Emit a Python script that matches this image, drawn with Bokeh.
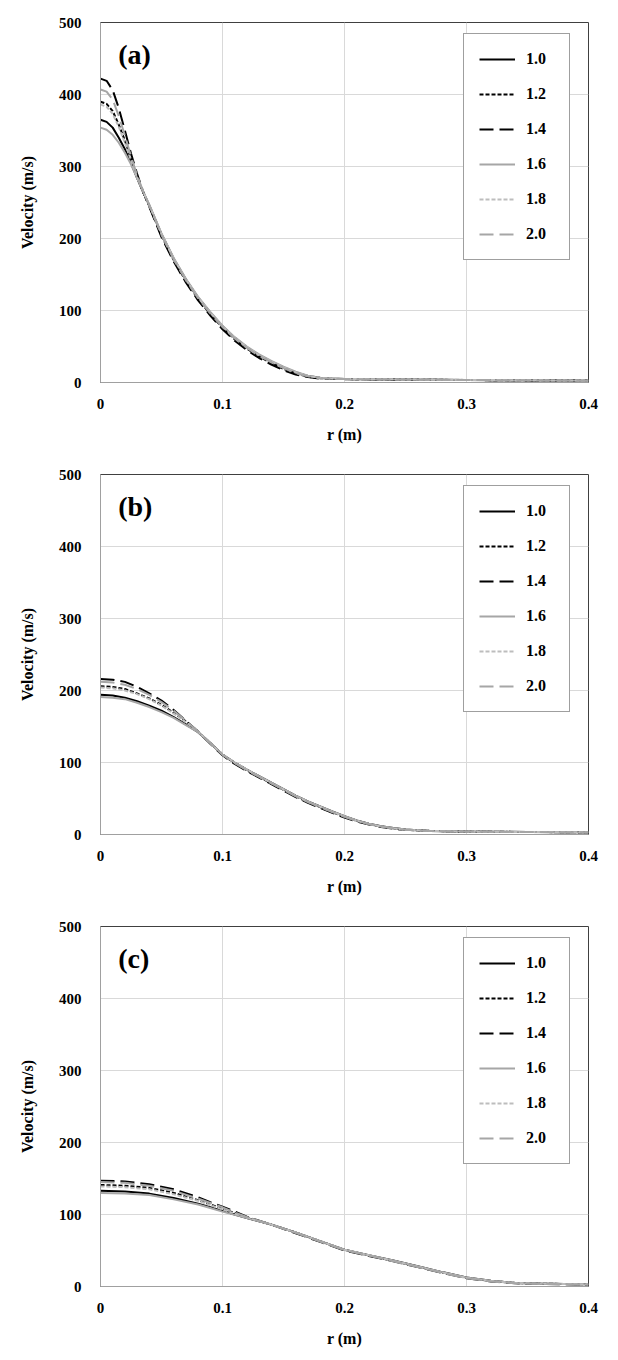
from bokeh.plotting import figure
from bokeh.layouts import column
from bokeh.models import Label, FixedTicker
from bokeh.embed import file_html
from bokeh.resources import INLINE

# ---------------- data ----------------
series_names = ["1.0", "1.2", "1.4", "1.6", "1.8", "2.0"]
x_ticks = [0, 0.1, 0.2, 0.3, 0.4]
x_tick_labels = ["0", "0.1", "0.2", "0.3", "0.4"]
y_ticks = [0, 100, 200, 300, 400, 500]
y_tick_labels = ["0", "100", "200", "300", "400", "500"]
panel_labels = ["(a)", "(b)", "(c)"]

# panel (a)
r_a = [0, 0.005, 0.01, 0.015, 0.02, 0.025, 0.03, 0.035, 0.04, 0.05, 0.06, 0.07, 0.08, 0.09,
       0.10, 0.11, 0.12, 0.13, 0.14, 0.15, 0.16, 0.17, 0.18, 0.19, 0.2, 0.25, 0.3, 0.35, 0.4]
a_10 = [365, 362, 354, 340, 324, 305, 284, 264, 246, 206, 172, 143, 118, 97, 78, 62, 49, 38, 29, 21, 14, 9, 6.5, 5.5, 5, 4.2, 3.6, 3.1, 2.6]
a_12 = [390, 387, 377, 358, 336, 311, 286, 264, 245, 204, 170, 141, 116, 95, 76, 60, 47, 36, 27, 19, 12.5, 8, 6, 5, 4.8, 4, 3.5, 3, 2.5]
a_14 = [422, 419, 406, 381, 350, 318, 290, 265, 244, 202, 168, 139, 114, 93, 74, 58, 45, 34, 25, 17, 11, 7.5, 5.5, 5, 4.6, 3.9, 3.4, 2.9, 2.4]
a_16 = [354, 351, 344, 333, 319, 303, 284, 265, 247, 207, 173, 144, 119, 98, 79, 63, 50, 39, 30, 22, 15, 9.5, 6.5, 5.5, 5, 4.2, 3.6, 3.1, 2.6]
a_18 = [386, 383, 373, 355, 333, 309, 285, 265, 246, 206, 172, 143, 118, 97, 78, 62, 49, 38, 29, 21, 14, 9, 6.5, 5.5, 5, 4.2, 3.6, 3.1, 2.6]
a_20 = [407, 404, 393, 370, 343, 314, 288, 265, 246, 205, 171, 142, 117, 96, 77, 61, 48, 37, 28, 20, 13, 8.5, 6, 5, 4.8, 4, 3.5, 3, 2.5]

# panel (b)
r_b = [0, 0.01, 0.02, 0.03, 0.04, 0.05, 0.06, 0.07, 0.08, 0.09, 0.10, 0.11, 0.12, 0.13, 0.14,
       0.15, 0.16, 0.17, 0.18, 0.19, 0.2, 0.21, 0.22, 0.23, 0.24, 0.25, 0.27, 0.3, 0.35, 0.4]
b_10 = [194, 193, 190, 185, 179, 172, 163, 153, 142, 127, 111, 100, 90, 81, 72, 63, 54, 46, 39, 32, 25.5, 19.5, 15, 11.5, 9, 7, 5, 4, 3.5, 3]
b_12 = [206, 205, 202, 196, 189, 180, 169, 157, 143, 127, 111, 99, 89, 80, 71, 62, 53, 45, 38, 31, 24.5, 19, 14.5, 11, 8.5, 6.5, 5, 4, 3.5, 3]
b_14 = [216, 215, 212, 205, 196, 186, 173, 158, 143, 126, 110, 98, 88, 79, 70, 61, 52, 44, 37, 30, 23.5, 18, 14, 10.5, 8, 6.5, 5, 4, 3.5, 3]
b_16 = [191, 190, 188, 183, 177, 170, 162, 152, 142, 127, 111, 100, 90, 81, 72, 63, 54, 46, 39, 32, 25.5, 19.5, 15, 11.5, 9, 7, 5, 4, 3.5, 3]
b_18 = [204, 203, 200, 195, 188, 179, 168, 156, 143, 127, 111, 100, 90, 80.5, 71.5, 62.5, 53.5, 45.5, 38.5, 31.5, 25, 19, 14.5, 11, 8.5, 6.5, 5, 4, 3.5, 3]
b_20 = [212, 211, 208, 202, 194, 184, 172, 158, 143, 127, 111, 99, 89, 80, 71, 62, 53, 45, 38, 31, 24.5, 19, 14.5, 11, 8.5, 6.5, 5, 4, 3.5, 3]

# panel (c)
r_c = [0, 0.02, 0.04, 0.06, 0.08, 0.09, 0.10, 0.11, 0.12, 0.14, 0.16, 0.18, 0.2, 0.22, 0.24,
       0.26, 0.28, 0.3, 0.32, 0.34, 0.36, 0.38, 0.4]
c_10 = [133, 132, 129, 123, 115, 110, 105, 100, 95, 86, 75, 63, 51, 43.5, 36, 28, 20, 12.5, 8, 5, 4, 3.5, 3]
c_12 = [141, 140, 137, 130, 120, 114, 108, 102, 96, 86, 75, 63, 51, 43, 35.5, 27.5, 19.5, 12, 7.5, 5, 4, 3.5, 3]
c_14 = [147, 146, 142, 135, 124, 117, 111, 104, 97, 86, 74, 62, 50, 42.5, 35, 27, 19, 11.5, 7, 4.5, 3.5, 3, 2.5]
c_16 = [130, 129, 127, 121, 114, 109, 104, 99.5, 95, 86, 75, 63, 51, 43.5, 36, 28, 20, 12.5, 8, 5, 4, 3.5, 3]
c_18 = [139, 138, 135, 128, 119, 113, 107, 101.5, 96, 86, 75, 63, 51, 43.5, 35.5, 27.5, 19.5, 12, 7.5, 5, 4, 3.5, 3]
c_20 = [145, 144, 140, 133, 122, 116, 110, 103, 96.5, 86, 74.5, 62.5, 50.5, 43, 35, 27, 19, 11.5, 7, 4.5, 3.5, 3, 2.5]

panels = [
    (r_a, [a_10, a_12, a_14, a_16, a_18, a_20]),
    (r_b, [b_10, b_12, b_14, b_16, b_18, b_20]),
    (r_c, [c_10, c_12, c_14, c_16, c_18, c_20]),
]

# ---------------- styles ----------------
BLACK = "#000000"
GRAY = "#a6a6a6"
LGRAY = "#bdbdbd"
styles = [
    dict(color=BLACK, dash="solid"),
    dict(color=BLACK, dash="4 2"),
    dict(color=BLACK, dash="14 6"),
    dict(color=GRAY, dash="solid"),
    dict(color=LGRAY, dash="4 2"),
    dict(color=GRAY, dash="14 6"),
]
FONT = "Liberation Serif"


def make_panel(idx, r, ys, height, top, bottom):
    p = figure(width=610, height=height, x_range=(0, 0.4), y_range=(0, 500),
               output_backend="svg", toolbar_location=None,
               min_border_left=100, min_border_right=22, min_border_top=top,
               min_border_bottom=bottom)
    p.background_fill_color = "white"
    p.border_fill_color = "white"
    p.outline_line_color = "#404040"
    p.outline_line_width = 1

    for name, yv, st in zip(series_names, ys, styles):
        p.line(r, yv, line_color=st["color"], line_dash=st["dash"], line_width=2,
               legend_label=name)

    p.xaxis.ticker = FixedTicker(ticks=x_ticks)
    p.yaxis.ticker = FixedTicker(ticks=y_ticks)
    p.xaxis.major_label_overrides = {float(t): l for t, l in zip(x_ticks, x_tick_labels)}
    p.yaxis.major_label_overrides = {float(t): l for t, l in zip(y_ticks, y_tick_labels)}
    for ax in (p.xaxis[0], p.yaxis[0]):
        ax.major_tick_line_color = None
        ax.minor_tick_line_color = None
        ax.axis_line_color = "#a0a0a0"
        ax.major_label_text_font = FONT
        ax.major_label_text_font_style = "bold"
        ax.major_label_text_font_size = "15px"
        ax.major_label_text_color = "black"
        ax.axis_label_text_font = FONT
        ax.axis_label_text_font_style = "bold"
        ax.axis_label_text_font_size = "16px"
        ax.axis_label_text_color = "black"
    p.xaxis.axis_label = "r (m)"
    p.yaxis.axis_label = "Velocity (m/s)"
    p.xaxis.major_label_standoff = 10
    p.yaxis.major_label_standoff = 13
    p.xaxis.axis_label_standoff = 14
    p.yaxis.axis_label_standoff = 20

    p.xgrid.grid_line_color = "#d9d9d9"
    p.ygrid.grid_line_color = "#d9d9d9"
    p.xgrid.ticker = FixedTicker(ticks=x_ticks)
    p.ygrid.ticker = FixedTicker(ticks=y_ticks)

    lg = p.legend[0]
    lg.location = (363, 122)
    lg.border_line_color = "#404040"
    lg.border_line_width = 1
    lg.background_fill_color = "white"
    lg.background_fill_alpha = 1
    lg.padding = 15
    lg.spacing = 15
    lg.margin = 0
    lg.glyph_width = 36
    lg.glyph_height = 20
    lg.label_height = 20
    lg.label_width = 28
    lg.label_standoff = 11
    lg.label_text_font = FONT
    lg.label_text_font_style = "bold"
    lg.label_text_font_size = "16px"
    lg.label_text_color = "black"

    p.add_layout(Label(x=0.0145, y=477, text=panel_labels[idx], text_font=FONT,
                       text_font_style="bold", text_font_size="28px",
                       text_baseline="top", text_align="left", text_color="black"))
    return p


figs = []
dims = [(460, 22, 78), (452, 14, 78), (440, 14, 66)]
for i, (r, ys) in enumerate(panels):
    h, t, b = dims[i]
    figs.append(make_panel(i, r, ys, h, t, b))

layout = column(*figs, spacing=0)
open("out.html", "w").write(file_html(layout, INLINE))
